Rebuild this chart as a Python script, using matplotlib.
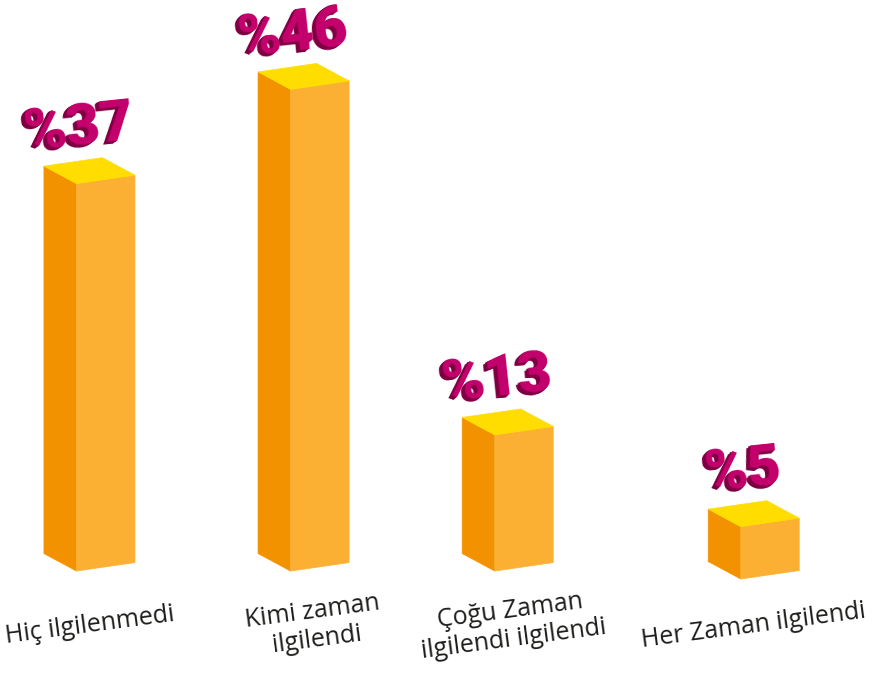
import matplotlib
matplotlib.use("Agg")
import matplotlib.pyplot as plt
from matplotlib.patches import Polygon
from matplotlib.transforms import offset_copy

# data
categories = ["Hiç ilgilenmedi", "Kimi zaman\nilgilendi",
              "Çoğu Zaman\nilgilendi ilgilendi", "Her Zaman ilgilendi"]
values = [37, 46, 13, 5]
value_labels = ["%37", "%46", "%13", "%5"]

# layout (category slots along x, baseline shift in percent units)
slot = [0.0, 0.967, 1.889, 3.0]
baseline = [0.0, 0.0, 0.0, -0.76]
label_shift = [0.0, 0.05, 0.02, 0.0]

# box depth in data units
WL, RL = 0.147, 1.67   # left face width / rise
WR, RR = 0.264, 0.81   # right face width / rise

LEFT_C = "#F39200"
RIGHT_C = "#FBB034"
TOP_C = "#FFDD00"
MAG = "#C4006C"
MAG_DARK = "#7E0043"

fig = plt.figure(figsize=(8.88, 6.77), dpi=100)
ax = fig.add_axes([0, 0, 1, 1])
ax.set_xlim(-0.3455, 3.665)
ax.set_ylim(-10.12, 54.54)
ax.set_axis_off()

for i, v in enumerate(values):
    f = slot[i]
    b = baseline[i]
    t = b + v
    left = [(f, b), (f, t), (f - WL, t + RL), (f - WL, b + RL)]
    right = [(f, b), (f + WR, b + RR), (f + WR, t + RR), (f, t)]
    top = [(f, t), (f - WL, t + RL), (f - WL + WR, t + RL + RR), (f + WR, t + RR)]
    ax.add_patch(Polygon(left, closed=True, fc=LEFT_C, ec=LEFT_C, lw=0.5))
    ax.add_patch(Polygon(right, closed=True, fc=RIGHT_C, ec=RIGHT_C, lw=0.5))
    ax.add_patch(Polygon(top, closed=True, fc=TOP_C, ec=TOP_C, lw=0.5))

    # extruded percent label
    ly = t + 5.2
    for k in range(5, 0, -1):
        tr = offset_copy(ax.transData, fig=fig, x=-0.8 * k, y=-0.6 * k, units="dots")
        ax.text(f + 0.01, ly, value_labels[i], transform=tr, ha="center", va="center",
                fontsize=42, fontweight="black", family=["Roboto", "DejaVu Sans"],
                color=MAG_DARK, rotation=6, rotation_mode="anchor")
    ax.text(f + 0.01, ly, value_labels[i], ha="center", va="center",
            fontsize=42, fontweight="black", family=["Roboto", "DejaVu Sans"],
            color=MAG, rotation=6, rotation_mode="anchor")

    # category label
    cx = f + (WR - WL) / 2 + label_shift[i]
    ax.text(cx, -5.2, categories[i], ha="center", va="center",
            multialignment="center", fontsize=18, color="#1D1D1B",
            family=["Open Sans", "DejaVu Sans"], rotation=7.5,
            rotation_mode="anchor", linespacing=1.2)

fig.savefig("out.png", dpi=100)
plt.close(fig)
